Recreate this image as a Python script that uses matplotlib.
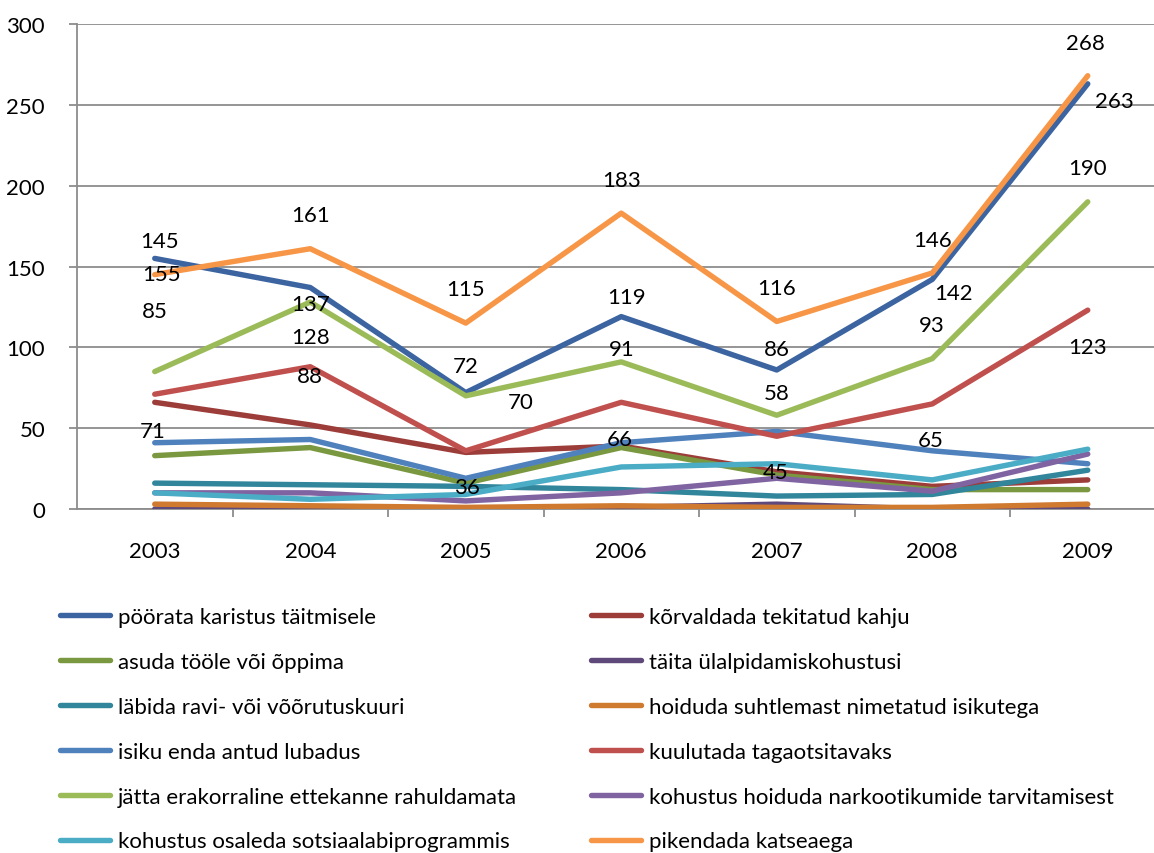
import matplotlib
matplotlib.use("Agg")
import matplotlib.pyplot as plt

plt.rcParams['font.family'] = ['Lato', 'DejaVu Sans']

years = ['2003', '2004', '2005', '2006', '2007', '2008', '2009']

labels = [
    'pöörata karistus täitmisele',
    'kõrvaldada tekitatud kahju',
    'asuda tööle või õppima',
    'täita ülalpidamiskohustusi',
    'läbida ravi- või võõrutuskuuri',
    'hoiduda suhtlemast nimetatud isikutega',
    'isiku enda antud lubadus',
    'kuulutada tagaotsitavaks',
    'jätta erakorraline ettekanne rahuldamata',
    'kohustus hoiduda narkootikumide tarvitamisest',
    'kohustus osaleda sotsiaalabiprogrammis',
    'pikendada katseaega',
]

poorata = [155, 137, 72, 119, 86, 142, 263]
korvaldada = [66, 52, 35, 39, 23, 14, 18]
asuda = [33, 38, 16, 38, 21, 12, 12]
taita = [0, 1, 0, 1, 3, 0, 0]
labida = [16, 15, 14, 12, 8, 9, 24]
hoiduda = [3, 2, 1, 2, 1, 1, 3]
isiku = [41, 43, 19, 41, 48, 36, 28]
kuulutada = [71, 88, 36, 66, 45, 65, 123]
jatta = [85, 128, 70, 91, 58, 93, 190]
narko = [10, 10, 5, 10, 19, 11, 34]
sotsiaal = [10, 6, 9, 26, 28, 18, 37]
pikendada = [145, 161, 115, 183, 116, 146, 268]

series = [poorata, korvaldada, asuda, taita, labida, hoiduda,
          isiku, kuulutada, jatta, narko, sotsiaal, pikendada]

colors = ['#3B64A0', '#9C3D3A', '#7A983F', '#5F497A', '#31869C', '#D07A30',
          '#4F81BD', '#C0504D', '#9BBB59', '#8064A2', '#4BACC6', '#F79646']

# data-label placement (pixel offsets from the point), per labelled series
label_offsets = {
    11: [(5, 34), (0, 34), (0, 34), (0, 33), (0, 33), (0, 33), (-2, 33)],
    0: [(7, -16), (0, -16), (0, 27), (5, 20), (0, 21), (21, -14), (27, -17)],
    8: [(0, 61), (0, -35), (55, -6), (0, 13), (0, 22), (0, 34), (0, 34)],
    7: [(-2, -37), (0, -9), (1, -36), (-1, -37), (-1, -36), (-2, -36), (0, -37)],
}

W, H = 1154, 854
fig = plt.figure(figsize=(W / 100, H / 100), dpi=100)
left_px, right_px, top_px, bot_px = 77, 1165.5, 25, 510
ax = fig.add_axes([left_px / W, (H - bot_px) / H, (right_px - left_px) / W,
                   (bot_px - top_px) / H])

x = list(range(len(years)))
handles = []
for i, (vals, c, lab) in enumerate(zip(series, colors, labels)):
    ln, = ax.plot(x, vals, color=c, lw=3.9, solid_capstyle='round',
                  solid_joinstyle='round', label=lab, zorder=3 + i * 0.01)
    handles.append(ln)

for si, offs in label_offsets.items():
    for xi, (v, (dx, dy)) in enumerate(zip(series[si], offs)):
        ax.annotate(str(v), xy=(xi, v), xytext=(dx, dy),
                    textcoords='offset pixels', ha='center', va='center',
                    fontsize=16, color='black', zorder=10)

ax.set_xlim(-0.5, len(years) - 0.5)
ax.set_ylim(0, 300)
ax.set_yticks(range(0, 301, 50))
ax.yaxis.grid(True, color='#8C8C8C', lw=1.3)
ax.set_axisbelow(True)
for s in ['top', 'right']:
    ax.spines[s].set_visible(False)
for s in ['left', 'bottom']:
    ax.spines[s].set_color('#8C8C8C')
    ax.spines[s].set_linewidth(1.3)

ax.set_xticks(x)
ax.set_xticklabels(years)
ax.set_xticks([i + 0.5 for i in range(len(years))], minor=True)
ax.tick_params(axis='x', which='major', length=0, pad=23, labelsize=16)
ax.tick_params(axis='x', which='minor', length=6, width=1.3, color='#8C8C8C',
               direction='out')
ax.tick_params(axis='y', length=6, width=1.3, color='#8C8C8C', pad=17,
               labelsize=16)

# legend in two columns: odd series left, even series right
fs = 16
leg_kw = dict(frameon=False, fontsize=fs, handlelength=2.25, handletextpad=0.36,
              labelspacing=1.12, borderpad=0, borderaxespad=0, loc='upper left')
left_h = handles[0::2]
right_h = handles[1::2]
lg1 = fig.legend(left_h, [h.get_label() for h in left_h],
                 bbox_to_anchor=(60 / W, 1 - 608 / H), **leg_kw)
lg2 = fig.legend(right_h, [h.get_label() for h in right_h],
                 bbox_to_anchor=(591 / W, 1 - 608 / H), **leg_kw)
for lg in (lg1, lg2):
    for l in lg.get_lines():
        l.set_linewidth(3.9)
        l.set_solid_capstyle('round')

fig.savefig('out.png', dpi=100)
